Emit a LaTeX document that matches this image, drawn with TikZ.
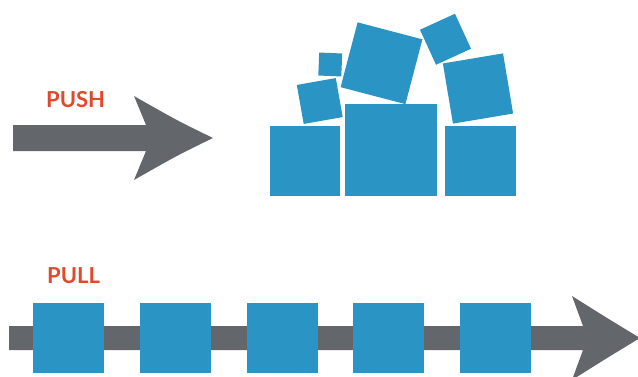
\documentclass[tikz,border=0pt]{standalone}
\usepackage{fontspec}
\setmainfont{Lato}
\definecolor{boxblue}{HTML}{2A94C4}
\definecolor{arrowgray}{HTML}{63676B}
\definecolor{labelred}{HTML}{E2492B}
\tikzset{
  blk/.style={fill=boxblue, draw=none, inner sep=0pt, outer sep=0pt},
  sq/.style={blk, minimum size=#1},
  rect/.style={blk, rectangle},
  arr/.style={fill=arrowgray, draw=none},
  lbl/.style={text=labelred, font=\fontsize{22}{22}\selectfont\bfseries, inner sep=0pt, anchor=base west}
}
\begin{document}
\begin{tikzpicture}[x=1pt, y=-1pt]
\useasboundingbox (0,0) rectangle (638,376);
\clip (0,0) rectangle (638,376);

% PUSH arrow
\fill[arr] (13,125) -- (146,125) -- (134,96) .. controls (178,121) .. (213,138)
  .. controls (178,155) .. (134,180) -- (146,151) -- (13,151) -- cycle;
\node[lbl] (push) at (46,107) {PUSH};

% pile of boxes
\node[rect, minimum width=70pt, minimum height=70pt] (b1) at (305,161) {};
\node[rect, minimum width=92pt, minimum height=92pt] (b2) at (391,150) {};
\node[rect, minimum width=71pt, minimum height=70pt] (b3) at (480.5,161) {};
\node[sq=39.6pt, rotate=10] (t1) at (319.75,101) {};
\node[sq=23pt, rotate=-2.4] (t2) at (330.25,64.5) {};
\node[sq=67pt, rotate=-14.7] (t3) at (381.5,63.25) {};
\node[sq=38.5pt, rotate=24.6] (t4) at (445.5,39.25) {};
\node[sq=61pt, rotate=9.5] (t5) at (478,88.5) {};

% PULL arrow
\fill[arr] (9,326) -- (583,326) -- (572,296) .. controls (607,318) .. (640,338)
  .. controls (607,358) .. (572,380) -- (583,350) -- (9,350) -- cycle;
\node[lbl] (pull) at (47,283) {PULL};

% flow boxes
\foreach \x [count=\i] in {68.5,175.5,282,388,495}
  \node[rect, minimum width=71pt, minimum height=70pt] (f\i) at (\x,338) {};
\end{tikzpicture}
\end{document}
